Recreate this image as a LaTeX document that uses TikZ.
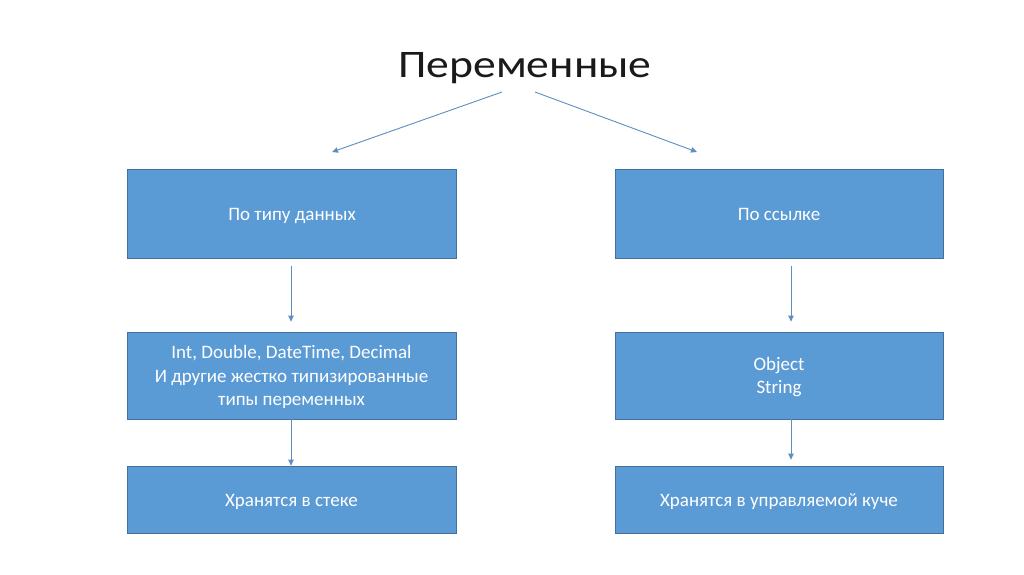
\documentclass[tikz,border=0pt]{standalone}
\usepackage{fontspec}
\setmainfont{Carlito}
\usetikzlibrary{arrows.meta}
\definecolor{boxfill}{HTML}{5B9BD5}
\definecolor{boxline}{HTML}{41719C}
\definecolor{arrowc}{HTML}{5E8FBF}
\definecolor{titlec}{HTML}{1A1A1A}
\newcommand{\dntext}[1]{\raisebox{-2pt}[\height][\depth]{\begin{tabular}{@{}c@{}}#1\end{tabular}}}
\begin{document}
\begin{tikzpicture}[x=1pt,y=-1pt,
  box/.style={draw=boxline,line width=0.8pt,fill=boxfill,text=white,
    minimum width=329pt,inner sep=0pt,
    font=\fontsize{19}{23.5}\selectfont},
  conn/.style={draw=arrowc,line width=0.9pt,-{Triangle[length=6pt,width=5.5pt]}}]
\useasboundingbox (0,0) rectangle (1024,574);
\fill[white] (0,0) rectangle (1024,574);
\node[text=titlec,anchor=base,inner sep=0pt,font=\fontsize{39}{46}\selectfont] (title) at (525,77.3) {\scalebox{1.17}[1]{Переменные}};
\coordinate (t1) at (502,92);
\coordinate (t2) at (535,92);
\node[box,minimum height=89pt] (l1) at (292,213.5) {\dntext{По типу данных}};
\node[box,minimum height=87pt] (l2) at (291.5,375.5) {\dntext{Int, Double, DateTime, Decimal\\И другие жестко типизированные\\типы переменных}};
\node[box,minimum height=67pt] (l3) at (291.5,499.5) {\dntext{Хранятся в стеке}};
\node[box,minimum width=328pt,minimum height=89pt] (r1) at (779,213.5) {\dntext{По ссылке}};
\node[box,minimum width=328pt,minimum height=87pt] (r2) at (779,375.5) {\dntext{Object\\String}};
\node[box,minimum width=328pt,minimum height=67pt] (r3) at (779,499.5) {\dntext{Хранятся в управляемой куче}};
\coordinate (e1) at (332,152);
\coordinate (e2) at (697,152);
\draw[conn] (t1) -- (e1);
\draw[conn] (t2) -- (e2);
\draw[conn,shorten <=8pt,shorten >=10pt] (l1.south -| 291,0) -- (l2.north -| 291,0);
\draw[conn] (l2.south -| 291,0) -- (l3.north -| 291,0);
\draw[conn,shorten <=8pt,shorten >=10pt] (r1.south -| 791,0) -- (r2.north -| 791,0);
\draw[conn,shorten >=6pt] (r2.south -| 791,0) -- (r3.north -| 791,0);
\end{tikzpicture}
\end{document}
